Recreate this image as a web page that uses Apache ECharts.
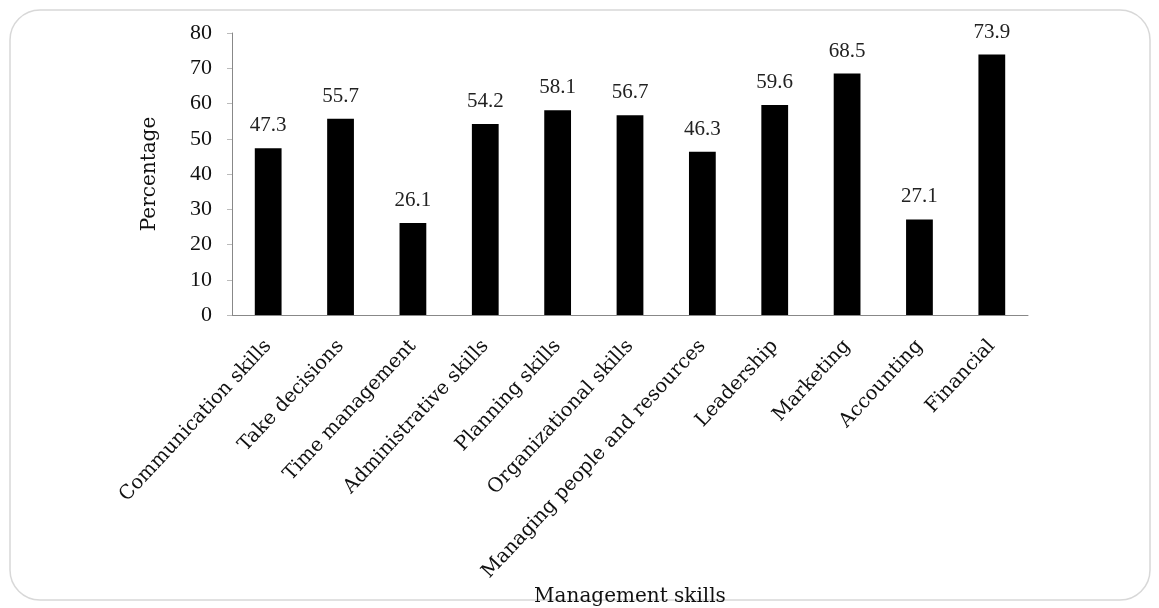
<!DOCTYPE html>
<html>
<head>
<meta charset="utf-8">
<script src="https://cdn.jsdelivr.net/npm/echarts@6/dist/echarts.min.js"></script>
<style>
  html, body { margin: 0; padding: 0; background: #fff; }
  #chart { width: 1159px; height: 608px; }
</style>
</head>
<body>
<div id="chart"></div>
<script>
// skill categories along the x axis
const skills = [
  'Communication skills', 'Take decisions', 'Time management', 'Administrative skills',
  'Planning skills', 'Organizational skills', 'Managing people and resources',
  'Leadership', 'Marketing', 'Accounting', 'Financial'
];
// percentage per skill
const percentages = [47.3, 55.7, 26.1, 54.2, 58.1, 56.7, 46.3, 59.6, 68.5, 27.1, 73.9];

const NUM_FONT = '"Liberation Serif", serif';
const TXT_FONT = '"DejaVu Serif", serif';

const chart = echarts.init(document.getElementById('chart'));

chart.setOption({
  backgroundColor: '#fff',
  animation: false,
  textStyle: { fontFamily: TXT_FONT },
  graphic: [{
    type: 'rect',
    shape: { x: 10, y: 10, width: 1140, height: 590, r: 30 },
    style: { fill: 'none', stroke: '#d8d8d8', lineWidth: 1.5 },
    z: -1
  }],
  grid: { left: 232, right: 131, top: 33, bottom: 290 },
  xAxis: {
    type: 'category',
    data: skills,
    name: 'Management skills',
    nameLocation: 'middle',
    nameGap: 272,
    nameTextStyle: { fontFamily: TXT_FONT, fontSize: 20, color: '#111' },
    axisLine: { lineStyle: { color: '#888', width: 1 } },
    axisTick: { show: false },
    axisLabel: {
      rotate: 47,
      interval: 0,
      margin: 28,
      fontFamily: TXT_FONT,
      fontSize: 19.5,
      color: '#111'
    }
  },
  yAxis: {
    type: 'value',
    min: 0,
    max: 80,
    interval: 10,
    name: 'Percentage',
    nameLocation: 'middle',
    nameGap: 72,
    nameTextStyle: { fontFamily: TXT_FONT, fontSize: 20, color: '#111' },
    axisLine: { show: true, lineStyle: { color: '#888', width: 1 } },
    axisTick: { show: true, length: 5, lineStyle: { color: '#bbb' } },
    splitLine: { show: false },
    axisLabel: { margin: 20, fontFamily: NUM_FONT, fontSize: 22, color: '#111' }
  },
  series: [{
    type: 'bar',
    data: percentages,
    barWidth: '37%',
    itemStyle: { color: '#000' },
    label: {
      show: true,
      position: 'top',
      distance: 12,
      fontFamily: NUM_FONT,
      fontSize: 21,
      color: '#222',
      formatter: p => p.value.toFixed(1)
    }
  }]
});
</script>
</body>
</html>
